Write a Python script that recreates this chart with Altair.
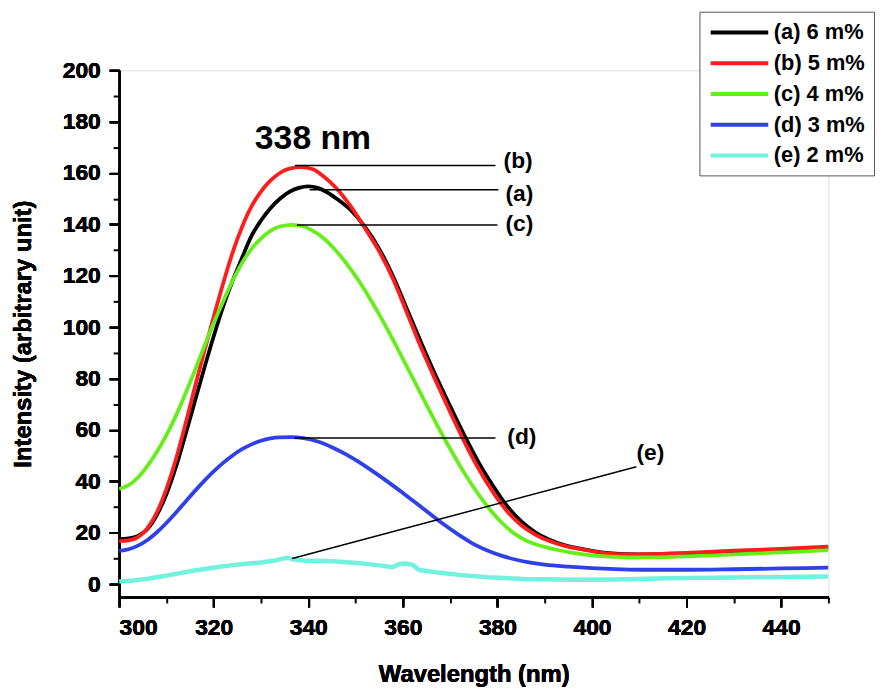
import altair as alt
import pandas as pd

FONT = "Liberation Sans"

series_names = ["(a) 6 m%", "(b) 5 m%", "(c) 4 m%", "(d) 3 m%", "(e) 2 m%"]
series_colors = ["#000000", "#ff1c1c", "#66ee1a", "#3040e8", "#70f2de"]

# (a) 6 m%
a_wl = [300, 302, 304, 306, 308, 310, 312, 314, 316, 318, 320, 322, 324, 326, 328, 330, 332,
        334, 336, 338, 340, 342, 344, 346, 349, 352, 355, 358, 361, 364, 367, 370, 373, 376,
        379, 382, 385, 388, 391, 394, 397, 400, 403, 407, 412, 420, 430, 440, 450]
a_val = [17.5, 17.8, 18.8, 21.5, 27, 35, 45.5, 58, 71, 84, 96.5, 108, 118, 127, 135.5, 141.5,
         146.3, 150, 152.7, 154.2, 154.8, 154.2, 152.5, 150, 145.5, 139, 130.5, 119.5, 106.5,
         93.5, 81, 69.3, 58, 47.5, 38.5, 30.5, 24.5, 20.2, 17.3, 15.3, 14, 13, 12.2, 11.7,
         11.6, 11.9, 12.6, 13.3, 14.2]

# (b) 5 m%
b_wl = [300, 302, 304, 306, 308, 310, 312, 314, 316, 318, 320, 322, 324, 326, 328, 330, 332,
        334, 336, 338.5, 341, 343, 346, 349, 352, 355, 358, 361, 364, 367, 370, 373, 376,
        379, 382, 385, 388, 391, 394, 397, 400, 403, 407, 412, 420, 430, 440, 450]
b_val = [16.7, 17.0, 18.3, 21.8, 28, 37, 48.5, 62, 76.5, 90.5, 104, 117, 129, 139, 147, 152.8,
         157, 160, 161.7, 162.3, 161.5, 159, 154, 147, 138.5, 129.5, 118.5, 105, 91.5, 79,
         67, 55.5, 45, 36, 28.5, 23, 19.3, 16.8, 15, 13.8, 12.8, 12, 11.6, 11.7, 12.2, 13,
         13.7, 14.6]

# (c) 4 m%
c_wl = [300, 302, 304, 306, 308, 310, 312, 314, 316, 318, 320, 322, 324, 326, 328, 330, 332,
        334, 336.6, 339, 341, 343, 345, 347, 349, 351, 353, 355, 357, 359, 361, 363, 365,
        367, 369, 371, 373, 375, 377, 379, 381, 383, 385, 387, 390, 393, 396, 400, 405, 410,
        420, 430, 440, 450]
c_val = [37.1, 38.5, 41.5, 46, 51.5, 58, 65.5, 74, 83, 92.5, 101.5, 110, 118, 125, 130.5,
         134.5, 137.5, 139.2, 139.8, 139.2, 137.5, 135, 131.5, 127.3, 122.5, 117.2, 111.3,
         105, 98.3, 91.3, 84.2, 77, 69.8, 62.8, 56, 49.5, 43.3, 37.6, 32.4, 27.8, 23.8, 20.5,
         18, 16.2, 14.5, 13.2, 12.2, 11.2, 10.6, 10.4, 10.8, 11.6, 12.4, 13.2]

# (d) 3 m%
d_wl = [300, 302, 304, 306, 308, 310, 312, 314, 316, 318, 320, 322, 324, 326, 328, 330, 332,
        334, 336.5, 339, 342, 345, 348, 351, 354, 357, 360, 363, 366, 369, 372, 375, 378,
        381, 384, 387, 390, 395, 400, 405, 410, 420, 430, 440, 450]
d_val = [12.9, 13.6, 15.0, 17.2, 20.2, 23.8, 27.8, 32, 36.2, 40.2, 43.9, 47.2, 50.1, 52.5,
         54.4, 55.8, 56.7, 57.1, 57.2, 56.8, 55.5, 53.3, 50.5, 47.2, 43.5, 39.6, 35.5, 31.3,
         27, 22.8, 19, 15.6, 13, 11, 9.5, 8.4, 7.6, 6.8, 6.2, 5.8, 5.6, 5.6, 5.8, 6.1, 6.4]

# (e) 2 m%
e_wl = [300, 303, 306, 309, 312, 315, 318, 321, 324, 327, 330, 333, 335.5, 337, 339,
        343.9, 346, 350.9, 355, 357.9, 359.3, 360.5, 362.1, 363.5, 367, 371.9, 378, 385.9,
        396.4, 405, 415.9, 430, 440, 450]
e_val = [1.0, 1.4, 2.1, 3.0, 4.0, 5.0, 5.9, 6.7, 7.4, 7.9, 8.4, 9.2, 10.3, 9.6, 9.2,
         9.0, 8.8, 8.1, 7.3, 6.6, 7.9, 8.0, 7.5, 5.5, 4.6, 3.6, 2.7, 2.0,
         1.7, 1.8, 2.3, 2.6, 2.8, 3.0]

x_major = [300, 320, 340, 360, 380, 400, 420, 440]
x_minor = [310, 330, 350, 370, 390, 410, 430, 450]
y_major = [0, 20, 40, 60, 80, 100, 120, 140, 160, 180, 200]
y_minor = [10, 30, 50, 70, 90, 110, 130, 150, 170, 190]

# annotation leader lines (data units)
ann_x1 = [340.3, 337.2, 337.6, 337.1, 336.6]
ann_x2 = [380.2, 379.6, 380.0, 379.6, 409.4]
ann_y1 = [153.5, 162.9, 139.8, 56.9, 10.0]
ann_y2 = [153.5, 162.9, 139.8, 56.9, 45.7]
# annotation labels
lab_text = ["(a)", "(b)", "(c)", "(d)", "(e)"]
lab_x = [381.7, 381.3, 381.7, 382.1, 409.4]
lab_y = [151.7, 164.5, 140.2, 57.3, 51.0]

peak_text = ["338 nm"]
peak_x = [341]
peak_y = [169.5]

rows = []
for name, wl, val in zip(series_names,
                         [a_wl, b_wl, c_wl, d_wl, e_wl],
                         [a_val, b_val, c_val, d_val, e_val]):
    for i, (w, v) in enumerate(zip(wl, val)):
        rows.append({"series": name, "wl": w, "val": v, "order": i})
df = pd.DataFrame(rows)

ann_df = pd.DataFrame({"x1": ann_x1, "x2": ann_x2, "y1": ann_y1, "y2": ann_y2})
lab_df = pd.DataFrame({"t": lab_text, "x": lab_x, "y": lab_y})
peak_df = pd.DataFrame({"t": peak_text, "x": peak_x, "y": peak_y})

xscale = alt.Scale(domain=[300, 450], nice=False, zero=False)
yscale = alt.Scale(domain=[-5, 200], nice=False, zero=False)

axis_common = dict(
    domainColor="black", domainWidth=2, tickColor="black", tickWidth=2,
    labelFont=FONT, labelFontWeight="bold", labelFontSize=23, labelColor="black",
    titleFont=FONT, titleFontWeight="bold", titleFontSize=24, titleColor="black",
    grid=False,
)

x_axis = alt.Axis(values=x_major, tickSize=10, labelPadding=10, title="Wavelength (nm)",
                  titlePadding=23, orient="bottom", **axis_common)
y_axis = alt.Axis(values=y_major, tickSize=10, labelPadding=9, title="Intensity (arbitrary unit)",
                  titlePadding=27, orient="left", **axis_common)

legend = alt.Legend(
    title=None, orient="none", legendX=585, legendY=-59,
    symbolType="M-1,0H5", symbolSize=374, symbolStrokeWidth=4,
    labelFont=FONT, labelFontWeight="bold", labelFontSize=22, labelColor="black",
    labelOffset=42, rowPadding=8, padding=9,
    strokeColor="#555555", fillColor="white",
)

def make_line(name, width, interp):
    return alt.Chart(df[df.series == name]).mark_line(
        strokeWidth=width, interpolate=interp, clip=True
    ).encode(
        x=alt.X("wl:Q", scale=xscale, axis=x_axis),
        y=alt.Y("val:Q", scale=yscale, axis=y_axis),
        color=alt.Color("series:N", scale=alt.Scale(domain=series_names, range=series_colors),
                        legend=legend),
        order="order:Q",
    )

lines = [
    make_line(series_names[0], 3.8, "monotone"),
    make_line(series_names[1], 3.8, "monotone"),
    make_line(series_names[2], 3.8, "monotone"),
    make_line(series_names[3], 3.8, "monotone"),
    make_line(series_names[4], 4.5, "linear"),
]

minor = alt.Chart(df).mark_point(opacity=0).encode(
    x=alt.X("wl:Q", scale=xscale,
            axis=alt.Axis(values=x_minor, tickSize=6, labels=False, title="", orient="bottom",
                          domain=False, tickColor="black", tickWidth=2, grid=False)),
    y=alt.Y("val:Q", scale=yscale,
            axis=alt.Axis(values=y_minor, tickSize=6, labels=False, title="", orient="left",
                          domain=False, tickColor="black", tickWidth=2, grid=False)),
)

rules = alt.Chart(ann_df).mark_rule(color="black", strokeWidth=1.5).encode(
    x=alt.X("x1:Q", scale=xscale, axis=None),
    x2="x2:Q",
    y=alt.Y("y1:Q", scale=yscale, axis=None),
    y2="y2:Q",
)

labels = alt.Chart(lab_df).mark_text(
    font=FONT, fontWeight="bold", fontSize=23, align="left", baseline="middle", color="black"
).encode(
    x=alt.X("x:Q", scale=xscale, axis=None),
    y=alt.Y("y:Q", scale=yscale, axis=None),
    text="t:N",
)

peak = alt.Chart(peak_df).mark_text(
    font=FONT, fontWeight="bold", fontSize=34, align="center", baseline="alphabetic", color="black"
).encode(
    x=alt.X("x:Q", scale=xscale, axis=None),
    y=alt.Y("y:Q", scale=yscale, axis=None),
    text="t:N",
)

chart = alt.layer(*lines, minor, rules, labels, peak).resolve_axis(
    x="independent", y="independent"
).properties(
    width=715, height=531,
    padding={"left": 112, "top": 60, "right": 50, "bottom": 88},
    autosize=alt.AutoSizeParams(type="none"),
).configure_view(stroke=None).configure(background="white")

chart.save("out.html", embed_options={"renderer": "svg", "actions": False})
